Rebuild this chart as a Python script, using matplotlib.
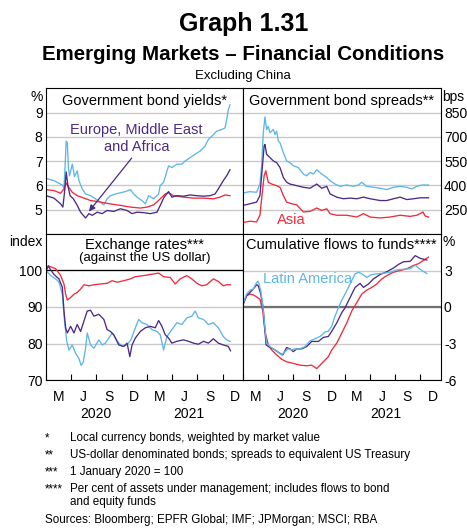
import numpy as np
import matplotlib
matplotlib.use('Agg')
import matplotlib.pyplot as plt
import matplotlib.dates as mdates
from matplotlib.ticker import FuncFormatter

plt.rcParams['font.family'] = ['Liberation Sans', 'DejaVu Sans']

BLUE = '#5cb7e6'
PURPLE = '#4d2a85'
RED = '#ef2b3d'
GRID = '#c9c9c9'

START = np.datetime64('2020-01-01')


def to_dates(days):
    return START + np.array(days).astype('timedelta64[D]')


# ---- data (days since 1 Jan 2020) ----
# government bond yields, %
yld_latam_d = [0, 29, 59, 65, 69, 73, 77, 81, 85, 95, 103, 113, 119, 131, 143, 161, 179, 197, 209, 221,
               233, 251, 269, 287, 305, 317, 329, 347, 359, 371, 389, 407, 413, 425, 443, 455, 473, 491,
               503, 521, 539, 557, 575, 587, 599, 617, 635, 647, 653, 659, 665]
yld_latam = [6.29, 6.2, 6.02, 5.9, 6.8, 7.83, 7.76, 6.74, 6.4, 6.88, 6.37, 6.6, 6.2, 5.86, 5.65, 5.58,
             5.45, 5.31, 5.2, 5.45, 5.58, 5.65, 5.7, 5.75, 5.83, 5.65, 5.52, 5.38, 5.24, 5.58, 5.45, 5.65,
             6.0, 6.13, 6.81, 6.74, 6.88, 6.88, 7.01, 7.15, 7.29, 7.42, 7.63, 7.9, 8.03, 8.24, 8.31, 8.37,
             8.71, 9.12, 9.33]
yld_emea_d = [0, 29, 53, 61, 67, 73, 79, 87, 99, 113, 125, 137, 143, 155, 167, 185, 203, 221, 245, 269,
              293, 311, 329, 353, 377, 401, 413, 427, 443, 455, 473, 497, 521, 545, 569, 593, 611, 623,
              641, 653, 665]
yld_emea = [5.58, 5.48, 5.24, 5.11, 5.72, 6.56, 6.0, 5.58, 5.45, 5.18, 4.9, 4.74, 4.66, 4.84, 4.77, 4.9,
            4.84, 4.97, 4.93, 5.04, 4.97, 4.84, 4.9, 4.88, 4.84, 4.9, 5.18, 5.52, 5.75, 5.52, 5.58, 5.56,
            5.61, 5.58, 5.56, 5.58, 5.65, 5.86, 6.2, 6.4, 6.65]
yld_asia_d = [0, 29, 53, 65, 73, 83, 95, 113, 137, 161, 185, 209, 233, 269, 305, 341, 365, 389, 413, 431,
              443, 461, 497, 533, 569, 605, 629, 647, 665]
yld_asia = [5.83, 5.79, 5.68, 5.86, 6.1, 5.92, 5.72, 5.58, 5.48, 5.38, 5.34, 5.29, 5.24, 5.18, 5.11,
            5.07, 5.11, 5.2, 5.45, 5.65, 5.7, 5.58, 5.52, 5.48, 5.48, 5.45, 5.52, 5.61, 5.58]

# government bond spreads, bps
spr_latam_d = [2, 26, 50, 62, 68, 74, 80, 86, 92, 98, 104, 110, 116, 122, 128, 134, 146, 158, 170, 182,
               200, 218, 230, 242, 254, 266, 284, 302, 314, 332, 350, 374, 398, 416, 428, 446, 470, 494,
               518, 542, 566, 590, 608, 626, 644, 668]
spr_latam = [354, 362, 358, 410, 522, 726, 824, 746, 766, 726, 736, 746, 715, 736, 675, 664, 603, 552,
             542, 522, 511, 471, 460, 481, 471, 497, 471, 450, 430, 409, 395, 403, 395, 403, 420, 395, 389,
             383, 375, 389, 395, 389, 379, 395, 403, 403]
spr_emea_d = [2, 26, 50, 62, 68, 77, 80, 86, 98, 110, 122, 134, 146, 158, 170, 194, 218, 242, 266, 284,
              302, 314, 338, 362, 386, 410, 434, 458, 494, 518, 542, 566, 590, 614, 638, 668]
spr_emea = [277, 287, 297, 338, 460, 644, 654, 593, 573, 552, 542, 511, 450, 420, 409, 399, 389, 383, 409,
            383, 395, 348, 328, 318, 322, 318, 328, 318, 307, 307, 318, 328, 313, 318, 324, 324]
spr_asia_d = [2, 26, 50, 62, 68, 77, 83, 92, 104, 122, 134, 146, 158, 176, 194, 218, 242, 266, 284, 302,
              314, 338, 374, 410, 434, 458, 494, 530, 566, 602, 626, 648, 656, 668]
spr_asia = [171, 179, 175, 216, 318, 460, 491, 420, 409, 399, 389, 338, 297, 287, 281, 236, 240, 261, 246,
            256, 226, 216, 216, 205, 226, 205, 199, 205, 216, 209, 216, 236, 211, 205]

# exchange rates, index
fx_asia_d = [0, 10, 35, 53, 65, 71, 77, 89, 101, 113, 125, 137, 155, 173, 197, 221, 239, 257, 281, 305,
             323, 353, 377, 407, 425, 449, 467, 485, 509, 527, 545, 563, 581, 605, 623, 641, 653, 667]
fx_asia = [100.0, 101.2, 100.5, 98.6, 96.3, 93.5, 91.9, 92.6, 93.5, 94.0, 94.9, 96.1, 95.8, 96.1, 96.3,
           96.5, 97.2, 96.8, 97.2, 97.7, 98.3, 98.6, 98.9, 99.3, 98.3, 98.1, 96.3, 97.7, 98.6, 97.7, 96.5,
           95.8, 96.1, 97.7, 97.0, 95.8, 96.1, 96.1]
fx_emea_d = [0, 8, 15, 29, 47, 59, 65, 71, 77, 89, 101, 113, 125, 137, 149, 161, 173, 191, 209, 221, 233,
             245, 263, 281, 293, 303, 311, 323, 341, 359, 377, 395, 407, 419, 431, 443, 455, 473, 497, 515,
             533, 551, 569, 587, 605, 623, 641, 659, 667]
fx_emea = [100.0, 101.3, 100.4, 98.9, 97.7, 95.4, 88.9, 84.3, 82.9, 84.7, 82.9, 85.2, 83.3, 86.1, 88.9,
           89.1, 87.5, 88.0, 86.6, 83.8, 83.3, 82.4, 79.6, 79.2, 80.1, 76.4, 79.6, 81.5, 83.3, 84.3, 84.7,
           84.3, 86.3, 84.7, 82.4, 81.5, 80.1, 80.6, 81.0, 80.6, 80.1, 79.8, 80.6, 80.1, 81.3, 80.1, 79.6,
           79.2, 78.0]
fx_latam_d = [0, 17, 35, 47, 59, 67, 75, 83, 95, 107, 119, 127, 135, 143, 149, 161, 173, 191, 203, 215,
              227, 239, 251, 263, 275, 293, 307, 323, 335, 347, 365, 383, 401, 413, 425, 437, 455, 473,
              491, 509, 527, 539, 551, 569, 587, 605, 623, 641, 653, 665]
fx_latam = [100.0, 98.6, 97.7, 96.8, 93.5, 86.1, 80.6, 78.2, 79.6, 77.3, 75.9, 74.0, 75.0, 78.7, 82.9,
            79.6, 78.7, 81.0, 79.6, 80.1, 81.5, 82.9, 81.5, 80.1, 79.2, 79.6, 81.0, 84.3, 86.6, 85.7,
            85.2, 83.8, 83.3, 82.4, 78.2, 81.9, 83.8, 85.7, 85.2, 87.0, 87.5, 88.9, 87.0, 86.6, 85.2,
            85.7, 84.3, 81.9, 81.0, 80.6]

# cumulative flows to funds, %
flw_latam_d = [2, 14, 26, 38, 50, 56, 65, 72, 80, 86, 98, 110, 122, 140, 152, 164, 176, 188, 206, 224,
               242, 260, 278, 296, 308, 320, 332, 344, 356, 368, 380, 392, 404, 416, 428, 446, 464, 482,
               506, 530, 554, 578, 602, 620, 632, 644, 662]
flw_latam = [0.28, 1.06, 1.39, 1.47, 2.03, 2.11, 1.33, 0.22, -1.72, -2.97, -3.25, -3.44, -3.61, -3.94,
             -3.67, -3.44, -3.53, -3.44, -3.44, -3.25, -2.78, -2.61, -2.42, -2.06, -2.0, -1.58, -0.75,
             -0.06, 0.56, 1.06, 1.61, 2.17, 2.72, 2.86, 2.72, 2.44, 2.67, 2.72, 2.78, 2.85, 3.05, 3.1,
             3.15, 3.44, 3.2, 3.0, 2.75]
flw_emea_d = [2, 14, 26, 38, 50, 56, 65, 74, 84, 98, 110, 128, 144, 158, 170, 182, 194, 212, 230, 248,
              272, 290, 308, 320, 338, 356, 368, 380, 392, 404, 422, 434, 452, 470, 494, 518, 542, 560,
              578, 602, 620, 638, 662]
flw_emea = [0.28, 0.92, 1.19, 1.47, 1.83, 1.75, 1.06, -0.19, -3.11, -3.33, -3.44, -3.72, -3.94, -3.33,
            -3.44, -3.67, -3.44, -3.44, -3.25, -2.83, -2.83, -2.5, -2.42, -2.0, -1.31, -0.47, -0.06, 0.5,
            1.06, 1.61, 1.94, 1.61, 1.89, 2.31, 2.67, 2.9, 3.2, 3.5, 3.72, 3.75, 4.22, 4.0, 3.86]
flw_asia_d = [2, 14, 26, 38, 50, 62, 72, 80, 92, 104, 122, 140, 158, 182, 206, 230, 248, 266, 278, 296,
              308, 320, 338, 356, 374, 392, 410, 428, 446, 464, 482, 500, 518, 542, 566, 590, 614, 632,
              650, 668]
flw_asia = [0.22, 0.92, 1.06, 1.0, 0.83, 0.64, -0.33, -2.0, -3.11, -3.53, -3.94, -4.3, -4.5, -4.64,
            -4.78, -4.83, -4.78, -5.06, -4.78, -4.36, -4.08, -3.53, -2.97, -2.14, -1.31, -0.33, 0.36,
            1.06, 1.39, 1.61, 1.89, 2.31, 2.58, 2.86, 3.0, 3.14, 3.42, 3.56, 3.83, 4.1]

# quarter labels sit mid-quarter and name the quarter's last month
quarter_names = {2: 'M', 5: 'J', 8: 'S', 11: 'D'}

footnotes = [
    ('*', 'Local currency bonds, weighted by market value'),
    ('**', 'US-dollar denominated bonds; spreads to equivalent US Treasury'),
    ('***', '1 January 2020 = 100'),
    ('****', 'Per cent of assets under management; includes flows to bond'),
    ('', 'and equity funds'),
]
sources = 'Sources: Bloomberg; EPFR Global; IMF; JPMorgan; MSCI; RBA'

# ---- layout in pixels ----
W, H = 467, 528
fig = plt.figure(figsize=(W / 100, H / 100), dpi=100)


def box(x0, y0, x1, y1):
    return [x0 / W, 1 - y1 / H, (x1 - x0) / W, (y1 - y0) / H]


XL, XM, XR = 46, 242.7, 440.5
YT, YM, YB = 88.5, 234, 380

ax1 = fig.add_axes(box(XL, YT, XM, YM))
ax2 = fig.add_axes(box(XM, YT, XR, YM))
ax3 = fig.add_axes(box(XL, YM, XM, YB))
ax4 = fig.add_axes(box(XM, YM, XR, YB))

xlim = (np.datetime64('2020-01-01'), np.datetime64('2021-12-12'))


def quarter_label(v, pos):
    return quarter_names.get(mdates.num2date(v).month, '')


def style(ax, ylim, ticks, right, bottom, unit):
    ax.set_xlim(*xlim)
    ax.set_ylim(*ylim)
    for s in ax.spines.values():
        s.set_linewidth(0.8)
        s.set_color('black')
    ax.set_yticks(ticks)
    ax.set_yticklabels([f'{t:g}' for t in ticks])
    if right:
        ax.yaxis.tick_right()
    ax.tick_params(axis='y', length=0, pad=2.5, labelsize=10)
    for t in ticks:
        ax.axhline(t, color=GRID, lw=1.0, zorder=0)
    ax.xaxis.set_major_locator(mdates.MonthLocator(bymonth=[1, 4, 7, 10]))
    ax.xaxis.set_minor_locator(mdates.MonthLocator(bymonth=[2, 5, 8, 11], bymonthday=15))
    ax.xaxis.set_major_formatter(FuncFormatter(lambda v, p: ''))
    ax.xaxis.set_minor_formatter(FuncFormatter(quarter_label))
    if bottom:
        ax.tick_params(axis='x', which='major', direction='in', length=4.5, width=0.8, top=False)
        ax.tick_params(axis='x', which='minor', length=0, pad=7, labelsize=10)
        for yr, day in (('2020', '2020-06-28'), ('2021', '2021-05-30')):
            ax.text(np.datetime64(day), -0.23, yr, transform=ax.get_xaxis_transform(),
                    ha='center', va='center', fontsize=10)
    else:
        ax.tick_params(axis='x', which='both', bottom=False, labelbottom=False)
    if right:
        ax.text(1.01, 0.945, unit, transform=ax.transAxes, ha='left', va='center', fontsize=10)
    else:
        ax.text(-0.016, 0.945, unit, transform=ax.transAxes, ha='right', va='center', fontsize=10)


style(ax1, (4, 10), [5, 6, 7, 8, 9], False, False, '%')
style(ax2, (100, 1000), [250, 400, 550, 700, 850], True, False, 'bps')
style(ax3, (70, 110), [70, 80, 90, 100], False, True, 'index')
style(ax4, (-6, 6), [-6, -3, 0, 3], True, True, '%')

ax3.axhline(100, color='black', lw=0.9, zorder=1)
ax4.axhline(0, color='#707070', lw=1.6, zorder=1)

lw = 0.95
ax1.plot(to_dates(yld_latam_d), yld_latam, color=BLUE, lw=lw)
ax1.plot(to_dates(yld_asia_d), yld_asia, color=RED, lw=lw)
ax1.plot(to_dates(yld_emea_d), yld_emea, color=PURPLE, lw=lw)

ax2.plot(to_dates(spr_latam_d), spr_latam, color=BLUE, lw=lw)
ax2.plot(to_dates(spr_emea_d), spr_emea, color=PURPLE, lw=lw)
ax2.plot(to_dates(spr_asia_d), spr_asia, color=RED, lw=lw)

ax3.plot(to_dates(fx_asia_d), fx_asia, color=RED, lw=lw)
ax3.plot(to_dates(fx_latam_d), fx_latam, color=BLUE, lw=lw)
ax3.plot(to_dates(fx_emea_d), fx_emea, color=PURPLE, lw=lw)

ax4.plot(to_dates(flw_asia_d), flw_asia, color=RED, lw=lw)
ax4.plot(to_dates(flw_emea_d), flw_emea, color=PURPLE, lw=lw)
ax4.plot(to_dates(flw_latam_d), flw_latam, color=BLUE, lw=lw)

# panel titles
ax1.text(0.5, 0.914, 'Government bond yields*', transform=ax1.transAxes, ha='center', va='center', fontsize=10.5)
ax2.text(0.5, 0.914, 'Government bond spreads**', transform=ax2.transAxes, ha='center', va='center', fontsize=10.5)
ax3.text(0.5, 0.925, 'Exchange rates***', transform=ax3.transAxes, ha='center', va='center', fontsize=10.5)
ax3.text(0.5, 0.836, '(against the US dollar)', transform=ax3.transAxes, ha='center', va='center', fontsize=9.5)
ax4.text(0.5, 0.925, 'Cumulative flows to funds****', transform=ax4.transAxes, ha='center', va='center', fontsize=10.5)

# series labels
ax1.text(np.datetime64('2020-11-24'), 7.94, 'Europe, Middle East\nand Africa', color=PURPLE,
         ha='center', va='center', fontsize=10.5, linespacing=1.25)
ax1.annotate('', xy=(np.datetime64('2020-05-29'), 4.84), xytext=(np.datetime64('2020-11-12'), 7.22),
             arrowprops=dict(arrowstyle='-|>', color=PURPLE, lw=0.9, mutation_scale=9))
ax2.text(np.datetime64('2020-05-02'), 189, 'Asia', color=RED, ha='left', va='center', fontsize=10.5)
ax4.text(np.datetime64('2020-03-14'), 2.33, 'Latin America', color=BLUE, ha='left', va='center', fontsize=10.5)

# figure titles, centred over the panels
cx = (XL + XR) / 2 / W
fig.text(cx, 1 - 31 / H, 'Graph 1.31', ha='center', va='baseline', fontsize=18, fontweight='bold')
fig.text(cx, 1 - 60 / H, 'Emerging Markets \u2013 Financial Conditions', ha='center', va='baseline',
         fontsize=14.8, fontweight='bold')
fig.text(cx, 1 - 78.5 / H, 'Excluding China', ha='center', va='baseline', fontsize=9.5)

# footnotes
ys = [438, 455, 472, 489, 502.5]
for (mark, txt), y in zip(footnotes, ys):
    if mark:
        fig.text(45 / W, 1 - y / H, mark, ha='left', va='center', fontsize=8.4)
    fig.text(70 / W, 1 - y / H, txt, ha='left', va='center', fontsize=8.4)
fig.text(45 / W, 1 - 520 / H, sources, ha='left', va='center', fontsize=8.4)

fig.savefig('out.png', dpi=100)
